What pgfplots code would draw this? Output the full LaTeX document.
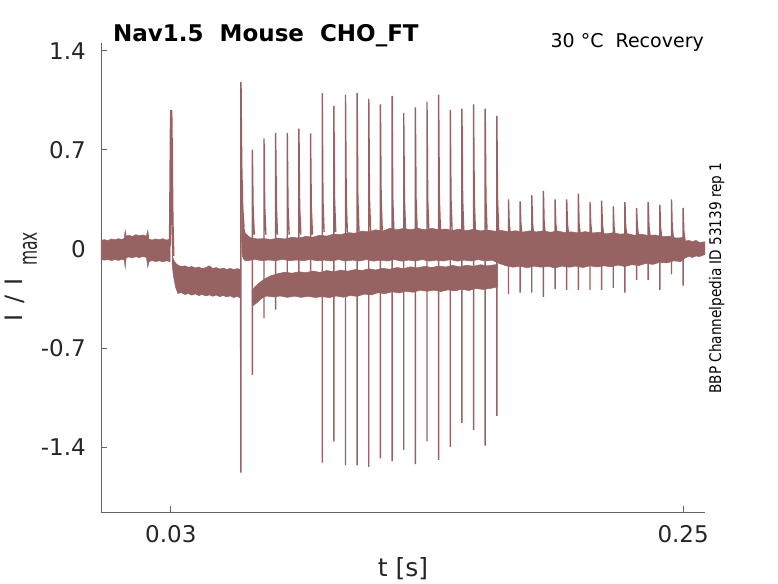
\documentclass[border=0pt]{standalone}
\usepackage{pgfplots}
\pgfplotsset{compat=1.18}
\usepackage{fontspec}
\setmainfont{DejaVu Sans}
\usepackage{graphicx}
\definecolor{tr}{RGB}{150,98,98}
\definecolor{axg}{RGB}{100,100,100}
\definecolor{txt}{RGB}{38,38,38}
\begin{document}
\begin{tikzpicture}
\useasboundingbox (-101pt,-71pt) rectangle (677pt,512pt);
\begin{axis}[
  at={(0,0)}, anchor=south west,
  width=604pt, height=468.7pt, scale only axis,
  xmin=0, xmax=0.2594, ymin=-1.859, ymax=1.452,
  axis lines=left, axis line style={-, draw=axg, line width=0.8pt},
  tick align=inside, major tick length=6pt,
  tick style={draw=axg, line width=0.8pt},
  xtick={0.03,0.25}, xticklabels={0.03,0.25},
  ytick={-1.4,-0.7,0,0.7,1.4}, yticklabels={-1.4,-0.7,0,0.7,1.4},
  ticklabel style={font=\fontsize{23}{23}\selectfont, text=txt},
  xticklabel style={inner sep=0pt, anchor=north, yshift=-13pt},
  yticklabel style={inner sep=0pt, anchor=east, xshift=-15pt},
  clip=false,
  unbounded coords=jump,
]
% band A: baseline before conditioning pulse
\addplot[draw=tr, fill=tr, line width=0.5pt] coordinates {
(0,0.06)(0.0015,0.065)(0.003,0.058)(0.0045,0.07)(0.006,0.064)(0.0075,0.072)(0.009,0.066)(0.0100,0.075)(0.0104,0.13)(0.0108,0.09)(0.012,0.095)(0.0135,0.088)(0.015,0.10)(0.0165,0.092)(0.018,0.098)(0.0195,0.09)(0.0201,0.13)(0.0206,0.068)(0.022,0.062)(0.0235,0.07)(0.025,0.064)(0.0265,0.072)(0.028,0.062)(0.0297,0.068)
(0.0297,-0.09)(0.028,-0.085)(0.0265,-0.092)(0.025,-0.084)(0.0235,-0.09)(0.022,-0.083)(0.0206,-0.09)(0.0201,-0.13)(0.0195,-0.06)(0.018,-0.055)(0.0165,-0.062)(0.015,-0.056)(0.0135,-0.063)(0.012,-0.058)(0.0108,-0.062)(0.0104,-0.135)(0.0100,-0.08)(0.009,-0.074)(0.0075,-0.082)(0.006,-0.076)(0.0045,-0.083)(0.003,-0.075)(0.0015,-0.08)(0,-0.075)};
% band B: during conditioning pulse
\addplot[draw=tr, fill=tr, line width=0.5pt] coordinates {
(0.0305,-0.02)(0.031,-0.07)(0.032,-0.10)(0.033,-0.115)(0.0345,-0.125)(0.036,-0.12)(0.0375,-0.13)(0.039,-0.125)(0.0405,-0.135)(0.042,-0.128)(0.0435,-0.14)(0.045,-0.132)(0.0465,-0.12)(0.048,-0.138)(0.0495,-0.132)(0.051,-0.142)(0.0525,-0.136)(0.054,-0.145)(0.0555,-0.138)(0.057,-0.146)(0.0585,-0.14)(0.0600,-0.145)
(0.0600,-0.35)(0.0585,-0.335)(0.057,-0.345)(0.0555,-0.332)(0.054,-0.34)(0.0525,-0.33)(0.051,-0.338)(0.0495,-0.326)(0.048,-0.335)(0.0465,-0.325)(0.045,-0.333)(0.0435,-0.322)(0.042,-0.33)(0.0405,-0.318)(0.039,-0.327)(0.0375,-0.316)(0.036,-0.322)(0.0345,-0.31)(0.033,-0.315)(0.032,-0.27)(0.031,-0.18)(0.0305,-0.10)};
% band C: upper band after 0.06
\addplot[draw=tr, fill=tr, line width=0.5pt] coordinates {
(0.0603,0.45)(0.0607,0.25)(0.0612,0.16)(0.062,0.11)(0.064,0.08)(0.067,0.07)(0.070,0.072)(0.073,0.066)(0.076,0.076)(0.079,0.07)(0.082,0.082)(0.085,0.076)(0.088,0.088)(0.091,0.082)(0.094,0.096)(0.097,0.09)(0.100,0.105)(0.103,0.10)(0.106,0.115)(0.109,0.11)(0.112,0.125)(0.115,0.12)(0.118,0.135)(0.121,0.125)(0.124,0.145)(0.127,0.135)(0.130,0.145)(0.133,0.135)(0.136,0.145)(0.139,0.135)(0.142,0.145)(0.145,0.135)(0.148,0.14)(0.151,0.13)(0.154,0.14)(0.157,0.128)(0.160,0.138)(0.163,0.127)(0.166,0.133)(0.169,0.125)(0.172,0.13)(0.175,0.12)(0.178,0.128)(0.181,0.118)(0.184,0.127)(0.187,0.12)(0.190,0.127)(0.193,0.117)(0.196,0.126)(0.199,0.116)(0.202,0.12)(0.205,0.113)(0.208,0.122)(0.211,0.112)(0.214,0.117)(0.217,0.106)(0.220,0.114)(0.223,0.104)(0.226,0.108)(0.229,0.096)(0.232,0.104)(0.235,0.094)(0.238,0.098)(0.241,0.085)(0.244,0.09)(0.247,0.076)(0.2503,0.08)(0.251,0.055)(0.2525,0.06)(0.254,0.05)(0.2555,0.06)(0.257,0.045)(0.2593,0.05)
(0.2593,-0.04)(0.257,-0.055)(0.2555,-0.05)(0.254,-0.062)(0.2525,-0.052)(0.2503,-0.07)(0.249,-0.09)(0.246,-0.085)(0.243,-0.10)(0.240,-0.095)(0.237,-0.11)(0.234,-0.103)(0.231,-0.118)(0.228,-0.112)(0.225,-0.125)(0.222,-0.115)(0.219,-0.127)(0.216,-0.12)(0.213,-0.128)(0.210,-0.12)(0.207,-0.132)(0.204,-0.122)(0.201,-0.13)(0.198,-0.122)(0.195,-0.135)(0.192,-0.124)(0.189,-0.13)(0.186,-0.122)(0.183,-0.134)(0.180,-0.122)(0.177,-0.13)(0.174,-0.12)(0.1705,-0.10)
(0.168,-0.08)(0.165,-0.086)(0.162,-0.076)(0.159,-0.086)(0.156,-0.08)(0.153,-0.087)(0.150,-0.076)(0.147,-0.086)(0.144,-0.08)(0.141,-0.087)(0.138,-0.076)(0.135,-0.086)(0.132,-0.08)(0.129,-0.087)(0.126,-0.076)(0.123,-0.086)(0.120,-0.08)(0.117,-0.087)(0.114,-0.076)(0.111,-0.086)(0.108,-0.08)(0.105,-0.086)(0.102,-0.076)(0.099,-0.086)(0.096,-0.08)(0.093,-0.085)(0.090,-0.075)(0.087,-0.084)(0.084,-0.079)(0.081,-0.084)(0.078,-0.074)(0.075,-0.084)(0.072,-0.079)(0.069,-0.084)(0.066,-0.074)(0.063,-0.084)(0.0615,-0.08)(0.0607,-0.05)(0.0603,0.1)};
% band D: lower band 0.065-0.17
\addplot[draw=tr, fill=tr, line width=0.5pt] coordinates {
(0.0648,-0.30)(0.066,-0.27)(0.068,-0.24)(0.0705,-0.21)(0.073,-0.19)(0.076,-0.175)(0.079,-0.165)(0.082,-0.172)(0.085,-0.162)(0.088,-0.168)(0.091,-0.157)(0.094,-0.166)(0.097,-0.153)(0.100,-0.162)(0.103,-0.15)(0.106,-0.158)(0.109,-0.146)(0.112,-0.153)(0.115,-0.141)(0.118,-0.149)(0.121,-0.137)(0.124,-0.144)(0.127,-0.132)(0.130,-0.139)(0.133,-0.127)(0.136,-0.134)(0.139,-0.123)(0.142,-0.132)(0.145,-0.121)(0.148,-0.128)(0.151,-0.117)(0.154,-0.127)(0.157,-0.116)(0.160,-0.123)(0.163,-0.112)(0.166,-0.12)(0.1702,-0.11)
(0.1702,-0.27)(0.167,-0.28)(0.164,-0.287)(0.161,-0.28)(0.158,-0.295)(0.155,-0.285)(0.152,-0.297)(0.149,-0.29)(0.146,-0.302)(0.143,-0.292)(0.140,-0.30)(0.137,-0.292)(0.134,-0.307)(0.131,-0.30)(0.128,-0.312)(0.125,-0.303)(0.122,-0.317)(0.119,-0.31)(0.116,-0.326)(0.113,-0.32)(0.110,-0.336)(0.107,-0.33)(0.104,-0.342)(0.101,-0.333)(0.098,-0.345)(0.095,-0.337)(0.092,-0.344)(0.089,-0.335)(0.086,-0.343)(0.083,-0.334)(0.080,-0.343)(0.077,-0.333)(0.074,-0.34)(0.071,-0.333)(0.069,-0.35)(0.067,-0.38)(0.0655,-0.40)(0.0648,-0.37)};
% conditioning spike
\addplot[draw=tr, line width=2.2pt] coordinates {(0.0296,0.02)(0.0300,0.85)(0.0302,0.98)(0.0304,0.7)(0.0307,0.2)(0.0311,-0.05)};
% spike at 0.06
\addplot[draw=tr, line width=1.5pt] coordinates {(0.0600,-0.25)(0.06005,-1.58)(0.0601,1.18)(0.0604,0.6)(0.0608,0.3)(0.0614,0.15)};
% test pulse spikes
\addplot[draw=tr, line width=1.4pt] table[row sep=\\] {
x y\\
0.065 -0.89\\ 0.065 0.70\\ 0.0653 0.30\\ 0.0658 0.10\\ nan nan\\
0.070 -0.49\\ 0.070 0.78\\ 0.0703 0.30\\ 0.0708 0.10\\ nan nan\\
0.075 -0.43\\ 0.075 0.82\\ 0.0753 0.30\\ 0.0758 0.10\\ nan nan\\
0.080 -0.28\\ 0.080 0.82\\ 0.0803 0.30\\ 0.0808 0.10\\ nan nan\\
0.085 -0.28\\ 0.085 0.85\\ 0.0853 0.30\\ 0.0858 0.10\\ nan nan\\
0.090 -0.28\\ 0.090 0.815\\ 0.0903 0.30\\ 0.0908 0.10\\ nan nan\\
0.095 -1.51\\ 0.095 1.10\\ 0.0953 0.35\\ 0.0958 0.12\\ nan nan\\
0.100 -1.36\\ 0.100 1.01\\ 0.1003 0.35\\ 0.1008 0.12\\ nan nan\\
0.105 -1.53\\ 0.105 1.09\\ 0.1053 0.35\\ 0.1058 0.12\\ nan nan\\
0.110 -1.53\\ 0.110 1.10\\ 0.1103 0.35\\ 0.1108 0.12\\ nan nan\\
0.115 -1.54\\ 0.115 1.06\\ 0.1153 0.35\\ 0.1158 0.12\\ nan nan\\
0.120 -1.48\\ 0.120 1.02\\ 0.1203 0.35\\ 0.1208 0.12\\ nan nan\\
0.125 -1.50\\ 0.125 1.08\\ 0.1253 0.35\\ 0.1258 0.12\\ nan nan\\
0.130 -1.42\\ 0.130 0.96\\ 0.1303 0.35\\ 0.1308 0.12\\ nan nan\\
0.135 -1.52\\ 0.135 1.00\\ 0.1353 0.35\\ 0.1358 0.12\\ nan nan\\
0.140 -1.36\\ 0.140 1.04\\ 0.1403 0.35\\ 0.1408 0.12\\ nan nan\\
0.145 -1.49\\ 0.145 1.09\\ 0.1453 0.35\\ 0.1458 0.12\\ nan nan\\
0.150 -1.40\\ 0.150 0.98\\ 0.1503 0.35\\ 0.1508 0.12\\ nan nan\\
0.155 -1.23\\ 0.155 0.99\\ 0.1553 0.35\\ 0.1558 0.12\\ nan nan\\
0.160 -1.28\\ 0.160 1.02\\ 0.1603 0.35\\ 0.1608 0.12\\ nan nan\\
0.165 -1.39\\ 0.165 0.99\\ 0.1653 0.35\\ 0.1658 0.12\\ nan nan\\
0.170 -1.18\\ 0.170 0.94\\ 0.1703 0.35\\ 0.1708 0.12\\ nan nan\\
0.175 -0.32\\ 0.175 0.35\\ 0.1753 0.18\\ 0.1758 0.10\\ nan nan\\
0.180 -0.31\\ 0.180 0.335\\ 0.1803 0.18\\ 0.1808 0.10\\ nan nan\\
0.185 -0.31\\ 0.185 0.38\\ 0.1853 0.18\\ 0.1858 0.10\\ nan nan\\
0.190 -0.34\\ 0.190 0.41\\ 0.1903 0.18\\ 0.1908 0.10\\ nan nan\\
0.195 -0.285\\ 0.195 0.35\\ 0.1953 0.18\\ 0.1958 0.10\\ nan nan\\
0.200 -0.29\\ 0.200 0.35\\ 0.2003 0.18\\ 0.2008 0.10\\ nan nan\\
0.205 -0.29\\ 0.205 0.39\\ 0.2053 0.18\\ 0.2058 0.10\\ nan nan\\
0.210 -0.29\\ 0.210 0.33\\ 0.2103 0.18\\ 0.2108 0.10\\ nan nan\\
0.215 -0.29\\ 0.215 0.34\\ 0.2153 0.18\\ 0.2158 0.10\\ nan nan\\
0.220 -0.275\\ 0.220 0.30\\ 0.2203 0.16\\ 0.2208 0.09\\ nan nan\\
0.225 -0.31\\ 0.225 0.33\\ 0.2253 0.16\\ 0.2258 0.09\\ nan nan\\
0.230 -0.22\\ 0.230 0.29\\ 0.2303 0.16\\ 0.2308 0.09\\ nan nan\\
0.235 -0.22\\ 0.235 0.33\\ 0.2353 0.16\\ 0.2358 0.09\\ nan nan\\
0.240 -0.29\\ 0.240 0.31\\ 0.2403 0.15\\ 0.2408 0.08\\ nan nan\\
0.245 -0.18\\ 0.245 0.35\\ 0.2453 0.15\\ 0.2458 0.08\\ nan nan\\
0.250 -0.26\\ 0.250 0.29\\ 0.2503 0.12\\ 0.2508 0.06\\
};
\end{axis}
% title and annotations
\node[anchor=base west, inner sep=0pt, text=black, font=\fontsize{23}{23}\selectfont\bfseries] at (12pt,470.3pt) {Nav1.5\ \ Mouse\ \ CHO\_FT};
\node[anchor=base east, inner sep=0pt, text=black, font=\fontsize{19}{19}\selectfont] at (603pt,464.7pt) {30 °C\ \ Recovery};
\node[rotate=90, anchor=base, inner sep=0pt, text=black] at (620pt,234pt) {\scalebox{0.85}[1]{\fontsize{16}{16}\selectfont BBP Channelpedia ID 53139 rep 1}};
\node[anchor=base, inner sep=0pt, text=txt, font=\fontsize{25}{25}\selectfont] at (302pt,-64.5pt) {t [s]};
\node[rotate=90, anchor=base west, inner sep=0pt, text=txt, font=\fontsize{24}{24}\selectfont] at (-78pt,190pt) {I\hspace{0.45em}/\hspace{0.45em}I\hspace{0.5em}\raisebox{-14pt}{\scalebox{0.62}[1]{\fontsize{25}{25}\selectfont max}}};
\end{tikzpicture}
\end{document}
